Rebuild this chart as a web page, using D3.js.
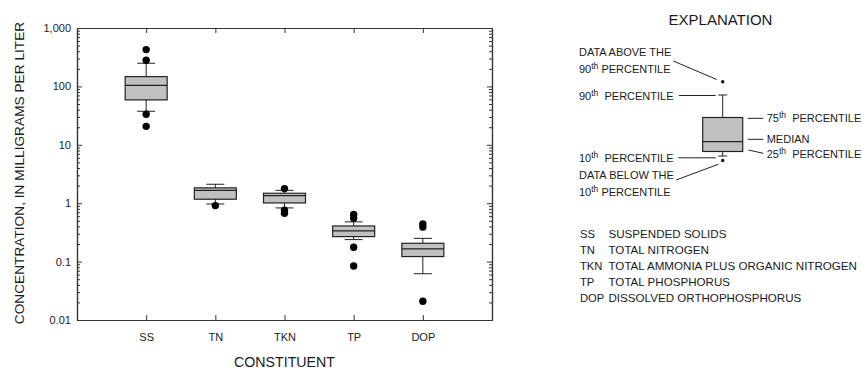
<!DOCTYPE html>
<html>
<head>
<meta charset="utf-8">
<script src="https://cdn.jsdelivr.net/npm/d3@7"></script>
<style>
  body { margin: 0; background: #fff; }
  text { font-family: "Liberation Sans", Arial, sans-serif; fill: #1a1a1a; }
</style>
</head>
<body>
<svg width="862" height="371"></svg>
<script>
  //Constituents along the x axis
  const categories = ['SS', 'TN', 'TKN', 'TP', 'DOP'];
  //Percentiles for each constituent, milligrams per liter
  const p10 = [37.5, 0.97, 0.83, 0.238, 0.062];
  const p25 = [58.7, 1.17, 1.01, 0.268, 0.122];
  const median = [104, 1.66, 1.35, 0.336, 0.165];
  const p75 = [147, 1.83, 1.48, 0.408, 0.206];
  const p90 = [249, 2.11, 1.66, 0.479, 0.25];
  //Values outside the 10th-90th range
  const outliers = [
    [427, 280, 33.3, 20.7],
    [0.91],
    [1.78, 0.76, 0.67],
    [0.64, 0.55, 0.176, 0.084],
    [0.44, 0.39, 0.021]
  ];
  //Tick labels on the log axis
  const yTickValues = [0.01, 0.1, 1, 10, 100, 1000];
  const yTickLabels = ['0.01', '0.1', '1', '10', '100', '1,000'];
  //Legend for the abbreviations
  const legendAbbr = ['SS', 'TN', 'TKN', 'TP', 'DOP'];
  const legendNames = [
    'SUSPENDED SOLIDS',
    'TOTAL NITROGEN',
    'TOTAL AMMONIA PLUS ORGANIC NITROGEN',
    'TOTAL PHOSPHORUS',
    'DISSOLVED ORTHOPHOSPHORUS'
  ];

  const svg = d3.select('svg');
  const margin = { left: 77, top: 28, right: 492, bottom: 320 };
  const axisColor = '#333';
  const boxFill = '#c0c0c0';
  const boxWidth = 42;
  const capWidth = 18;
  const dotRadius = 3.7;

  const x = d3.scaleLinear().domain([0, categories.length + 1]).range([margin.left, margin.right]);
  const y = d3.scaleLog().domain([0.01, 1000]).range([margin.bottom, margin.top]);

  //Frame with inward ticks on every side
  const plot = svg.append('g');
  const minorTicks = y.ticks().filter(v => !yTickValues.some(t => Math.abs(t - v) / t < 1e-6));

  plot.append('g')
    .attr('transform', `translate(${margin.left},0)`)
    .call(d3.axisLeft(y).tickValues(yTickValues).tickFormat((d, i) => yTickLabels[i]).tickSizeInner(-5).tickSizeOuter(0).tickPadding(6));
  plot.append('g')
    .attr('transform', `translate(${margin.left},0)`)
    .call(d3.axisLeft(y).tickValues(minorTicks).tickFormat('').tickSizeInner(-3).tickSizeOuter(0));
  plot.append('g')
    .attr('transform', `translate(${margin.right},0)`)
    .call(d3.axisRight(y).tickValues(yTickValues).tickFormat('').tickSizeInner(-5).tickSizeOuter(0));
  plot.append('g')
    .attr('transform', `translate(${margin.right},0)`)
    .call(d3.axisRight(y).tickValues(minorTicks).tickFormat('').tickSizeInner(-3).tickSizeOuter(0));

  const xTicks = categories.map((c, i) => i + 1);
  plot.append('g')
    .attr('transform', `translate(0,${margin.bottom})`)
    .call(d3.axisBottom(x).tickValues(xTicks).tickFormat((d, i) => categories[i]).tickSizeInner(-5).tickSizeOuter(0).tickPadding(13));
  plot.append('g')
    .attr('transform', `translate(0,${margin.top})`)
    .call(d3.axisTop(x).tickValues(xTicks).tickFormat('').tickSizeInner(-5).tickSizeOuter(0));

  plot.selectAll('.domain').attr('stroke', axisColor).attr('stroke-width', 1.2);
  plot.selectAll('.tick line').attr('stroke', axisColor);
  plot.selectAll('.tick text').attr('font-size', 11).attr('fill', '#1a1a1a')
    .style('font-family', '"Liberation Sans", Arial, sans-serif');

  //Boxes
  const boxes = svg.append('g')
    .selectAll('g')
    .data(categories)
    .enter().append('g');

  boxes.append('line')
    .attr('x1', (d, i) => x(i + 1)).attr('x2', (d, i) => x(i + 1))
    .attr('y1', (d, i) => y(p90[i])).attr('y2', (d, i) => y(p10[i]))
    .attr('stroke', '#222');
  boxes.append('line')
    .attr('x1', (d, i) => x(i + 1) - capWidth / 2).attr('x2', (d, i) => x(i + 1) + capWidth / 2)
    .attr('y1', (d, i) => y(p90[i])).attr('y2', (d, i) => y(p90[i]))
    .attr('stroke', '#222');
  boxes.append('line')
    .attr('x1', (d, i) => x(i + 1) - capWidth / 2).attr('x2', (d, i) => x(i + 1) + capWidth / 2)
    .attr('y1', (d, i) => y(p10[i])).attr('y2', (d, i) => y(p10[i]))
    .attr('stroke', '#222');
  boxes.append('rect')
    .attr('x', (d, i) => x(i + 1) - boxWidth / 2)
    .attr('width', boxWidth)
    .attr('y', (d, i) => y(p75[i]))
    .attr('height', (d, i) => y(p25[i]) - y(p75[i]))
    .attr('fill', boxFill)
    .attr('stroke', '#222')
    .attr('stroke-width', 1.2);
  boxes.append('line')
    .attr('x1', (d, i) => x(i + 1) - boxWidth / 2).attr('x2', (d, i) => x(i + 1) + boxWidth / 2)
    .attr('y1', (d, i) => y(median[i])).attr('y2', (d, i) => y(median[i]))
    .attr('stroke', '#222')
    .attr('stroke-width', 1.2);
  boxes.each(function (d, i) {
    d3.select(this).selectAll('circle')
      .data(outliers[i])
      .enter().append('circle')
      .attr('cx', x(i + 1))
      .attr('cy', v => y(v))
      .attr('r', dotRadius)
      .attr('fill', '#000');
  });

  //Axis titles
  svg.append('text')
    .attr('transform', `translate(24,${(margin.top + margin.bottom) / 2 - 1}) rotate(-90)`)
    .attr('text-anchor', 'middle')
    .attr('font-size', 13.7)
    .text('CONCENTRATION, IN MILLIGRAMS PER LITER');
  svg.append('text')
    .attr('x', (margin.left + margin.right) / 2)
    .attr('y', 367)
    .attr('text-anchor', 'middle')
    .attr('font-size', 14.2)
    .text('CONSTITUENT');

  //Explanation diagram
  const ex = svg.append('g');
  const exX = 722.7;
  ex.append('text').attr('x', 720.5).attr('y', 25).attr('text-anchor', 'middle').attr('font-size', 15).text('EXPLANATION');

  ex.append('line').attr('x1', exX).attr('x2', exX).attr('y1', 95).attr('y2', 156).attr('stroke', '#222');
  ex.append('line').attr('x1', exX - 4.5).attr('x2', exX + 4.5).attr('y1', 95).attr('y2', 95).attr('stroke', '#222');
  ex.append('line').attr('x1', exX - 4.5).attr('x2', exX + 4.5).attr('y1', 156).attr('y2', 156).attr('stroke', '#222');
  ex.append('rect').attr('x', exX - 20).attr('y', 117.5).attr('width', 40).attr('height', 34)
    .attr('fill', boxFill).attr('stroke', '#222').attr('stroke-width', 1.2);
  ex.append('line').attr('x1', exX - 20).attr('x2', exX + 20).attr('y1', 141.7).attr('y2', 141.7).attr('stroke', '#222').attr('stroke-width', 1.2);
  ex.append('circle').attr('cx', exX).attr('cy', 81.7).attr('r', 1.7).attr('fill', '#000');
  ex.append('circle').attr('cx', exX).attr('cy', 160.5).attr('r', 1.7).attr('fill', '#000');

  const leaders = [
    [673.3, 61, 716.7, 79.5],
    [679, 95.5, 715.7, 95.5],
    [747.7, 118.3, 763.3, 118.3],
    [747.7, 139.3, 763.3, 139.3],
    [748.3, 150, 763.3, 153.3],
    [678.3, 157.8, 715.7, 157.8],
    [676, 180, 718.3, 164.3]
  ];
  ex.selectAll('line.leader')
    .data(leaders)
    .enter().append('line')
    .attr('class', 'leader')
    .attr('x1', d => d[0]).attr('y1', d => d[1])
    .attr('x2', d => d[2]).attr('y2', d => d[3])
    .attr('stroke', '#222');

  function label(px, py, text, sup, rest) {
    const t = ex.append('text').attr('x', px).attr('y', py).attr('font-size', 11)
      .attr('xml:space', 'preserve').style('white-space', 'pre');
    t.append('tspan').text(text);
    if (sup) {
      t.append('tspan').attr('font-size', 8.5).attr('dy', -4).text(sup);
      t.append('tspan').attr('dy', 4).text(rest);
    }
  }
  label(579, 55.7, 'DATA ABOVE THE');
  label(579, 72.7, '90', 'th', ' PERCENTILE');
  label(579, 99.5, '90', 'th', '  PERCENTILE');
  label(766.7, 122.3, '75', 'th', '  PERCENTILE');
  label(766.7, 143.3, 'MEDIAN');
  label(766.7, 157.5, '25', 'th', '  PERCENTILE');
  label(579, 162.3, '10', 'th', '  PERCENTILE');
  label(579, 179.3, 'DATA BELOW THE');
  label(579, 196, '10', 'th', ' PERCENTILE');

  //Abbreviation legend
  const legend = ex.selectAll('g.abbr')
    .data(legendAbbr)
    .enter().append('g')
    .attr('class', 'abbr')
    .attr('transform', (d, i) => `translate(0,${238.3 + i * 15.85})`);
  legend.append('text')
    .attr('x', 580)
    .attr('font-size', 11.2)
    .text(d => d);
  legend.append('text')
    .attr('x', 608.5)
    .attr('font-size', 11.6)
    .text((d, i) => legendNames[i]);
</script>
</body>
</html>
